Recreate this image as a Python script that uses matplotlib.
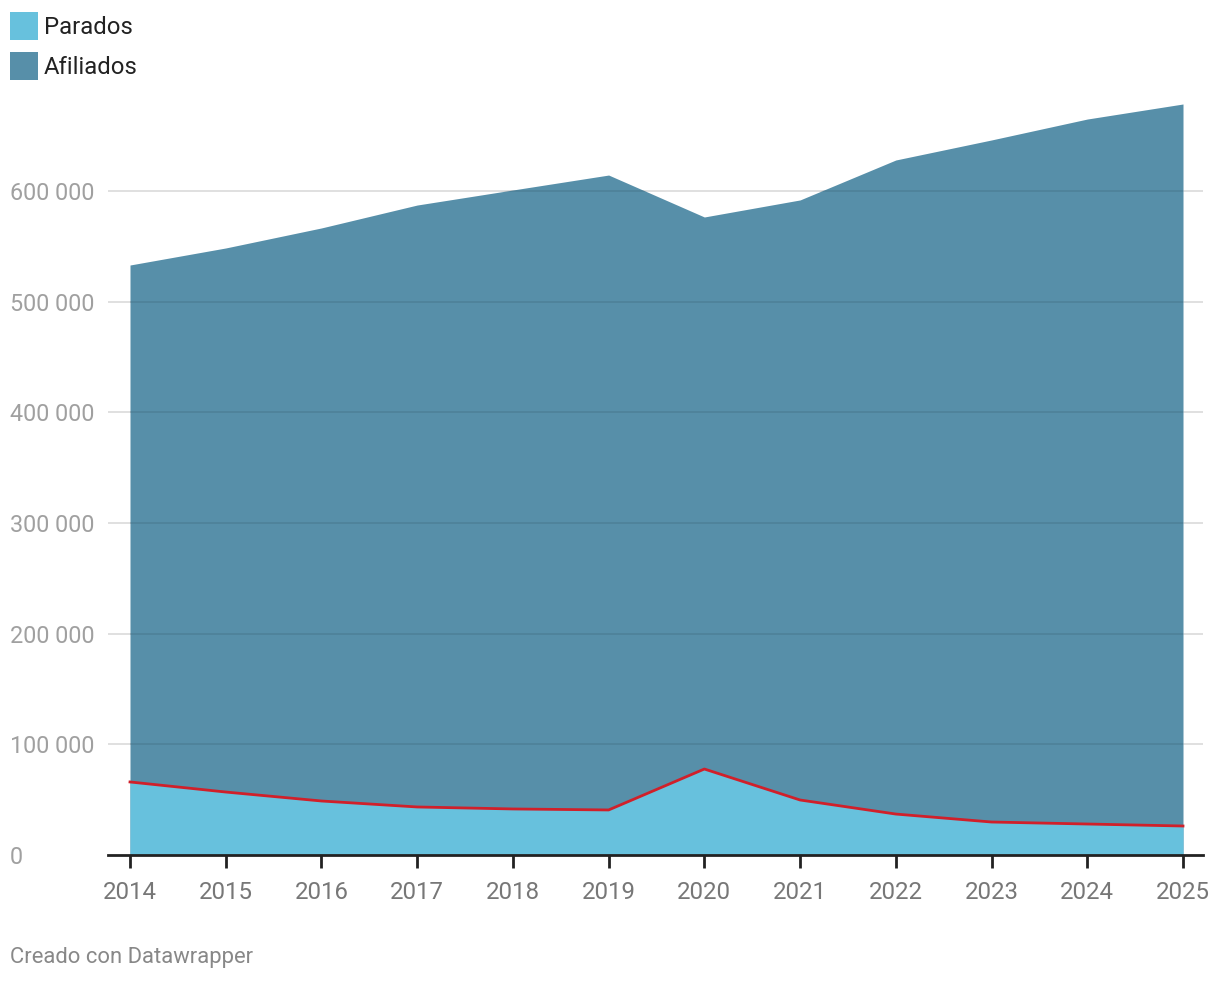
import matplotlib
matplotlib.use("Agg")
import matplotlib.pyplot as plt
from matplotlib.patches import Rectangle
from matplotlib.ticker import FuncFormatter

years = [2014, 2015, 2016, 2017, 2018, 2019, 2020, 2021, 2022, 2023, 2024, 2025]
afiliados = [533100, 548500, 566600, 587300, 600900, 614400, 576500, 591900, 628000, 646100, 665000, 678600]
parados = [66000, 56900, 48800, 43400, 41600, 40700, 77700, 49700, 37000, 29800, 28000, 26200]
yticks = [0, 100000, 200000, 300000, 400000, 500000, 600000]
series_names = ["Parados", "Afiliados"]

plt.rcParams['font.family'] = ['Roboto', 'DejaVu Sans']

W, H = 1220, 982
fig = plt.figure(figsize=(W / 100, H / 100), dpi=100)
ax_l, ax_r, ax_b, ax_t = 108, 1203, 855, 100
ax = fig.add_axes([ax_l / W, 1 - ax_b / H, (ax_r - ax_l) / W, (ax_b - ax_t) / H])

c_afil = "#578fa9"
c_par = "#67c1dd"

for yv in yticks[1:]:
    ax.axhline(yv, color="#dddddd", lw=1.3, zorder=1)

area = ax.fill_between(years, 0, afiliados, color=c_afil, lw=0, zorder=2)
# subtle darker gridlines visible through the area
for yv in yticks[1:]:
    ln = ax.axhline(yv, color="#000000", alpha=0.09, lw=1.3, zorder=2.5)
    ln.set_clip_path(area.get_paths()[0], area.get_transform())
ax.fill_between(years, 0, parados, color=c_par, lw=0, zorder=3)
ax.plot(years, parados, color="#d0202a", lw=2, zorder=4)

px_per_year = (1183 - 130) / 11
ax.set_xlim(2014 - 22 / px_per_year, 2025 + 20 / px_per_year)
ax.set_ylim(0, (855 - 100) / 110.67 * 100000)

for s in ["top", "right", "left"]:
    ax.spines[s].set_visible(False)
ax.spines["bottom"].set_color("#222222")
ax.spines["bottom"].set_linewidth(2)
ax.spines["bottom"].set_zorder(5)

ax.set_xticks(years)
ax.set_xticklabels([str(y) for y in years])
ax.tick_params(axis="x", length=9, width=2, color="#222222", labelsize=17.3,
               labelcolor="#777777", pad=10)
ax.set_yticks(yticks)
ax.yaxis.set_major_formatter(FuncFormatter(lambda v, p: f"{int(v):,}".replace(",", " ")))
ax.tick_params(axis="y", length=0, labelsize=16.8, labelcolor="#a0a0a0", pad=0)
for lab in ax.get_yticklabels():
    lab.set_horizontalalignment("left")
    lab.set_x(-98 / (ax_r - ax_l))

# legend
for i, (name, col) in enumerate(zip(series_names, [c_par, c_afil])):
    y0 = 12 + i * 40
    fig.patches.append(Rectangle((10 / W, 1 - (y0 + 28) / H), 28 / W, 28 / H,
                                 transform=fig.transFigure, color=col, lw=0))
    fig.text(44 / W, 1 - (y0 + 16) / H, name, fontsize=17.2, color="#222222",
             va="center", ha="left")

fig.text(10 / W, 1 - 958 / H, "Creado con Datawrapper", fontsize=15.8,
         color="#888888", va="center", ha="left")

fig.savefig("out.png", dpi=100)
